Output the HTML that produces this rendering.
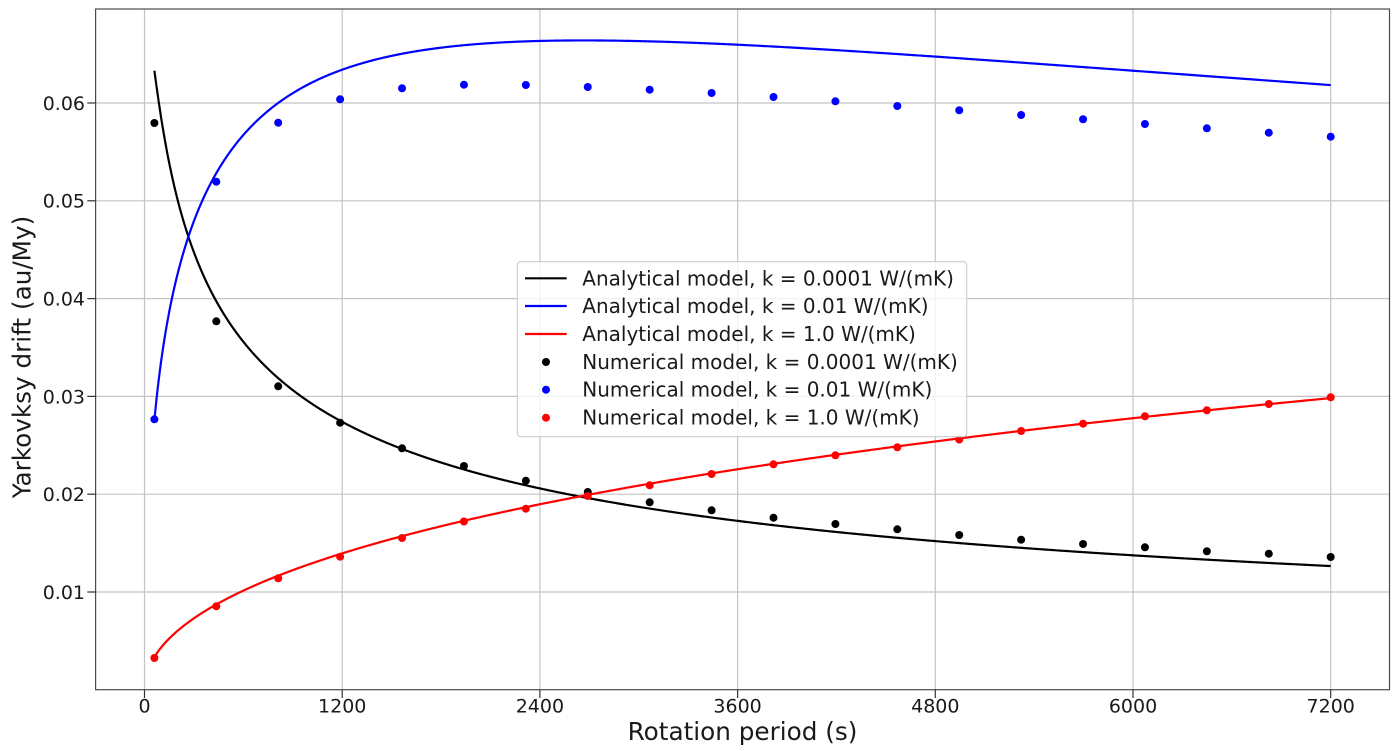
<!DOCTYPE html>
<html><head><meta charset="utf-8"><style>
html,body{margin:0;padding:0;background:#fff;}
svg{display:block;}
text{font-family:"DejaVu Sans","Liberation Sans",sans-serif;fill:#1a1a1a;}
circle{r:4px;}
</style></head><body>
<svg width="1400" height="751" viewBox="0 0 1400 751" xmlns="http://www.w3.org/2000/svg">
<rect x="0" y="0" width="1400" height="751" fill="#fff"/>
<!-- grid -->
<g stroke="#c4c4c4" stroke-width="1.2" fill="none">
<line x1="144.5" y1="9" x2="144.5" y2="689.7"/>
<line x1="342.2" y1="9" x2="342.2" y2="689.7"/>
<line x1="539.9" y1="9" x2="539.9" y2="689.7"/>
<line x1="737.6" y1="9" x2="737.6" y2="689.7"/>
<line x1="935.3" y1="9" x2="935.3" y2="689.7"/>
<line x1="1133" y1="9" x2="1133" y2="689.7"/>
<line x1="1330.7" y1="9" x2="1330.7" y2="689.7"/>
<line x1="95.6" y1="592" x2="1389.5" y2="592"/>
<line x1="95.6" y1="494.2" x2="1389.5" y2="494.2"/>
<line x1="95.6" y1="396.4" x2="1389.5" y2="396.4"/>
<line x1="95.6" y1="298.6" x2="1389.5" y2="298.6"/>
<line x1="95.6" y1="200.8" x2="1389.5" y2="200.8"/>
<line x1="95.6" y1="103" x2="1389.5" y2="103"/>
</g>
<!-- analytic curves -->
<g fill="none" stroke-width="2.2" stroke-linejoin="round" stroke-linecap="butt">
<polyline id="cb" stroke="#000" points="154.39,70.7 157.68,94.5 160.98,116.6 165.92,145.8 170.86,170.9 177.45,199.2 185.69,228.3 193.93,252.3 210.4,290.1 226.88,318.9 243.35,341.8 276.3,376.5 309.25,402.0 342.2,421.8 391.63,444.8 441.05,462.5 506.95,480.8 572.85,495.2 638.75,506.9 737.6,520.9 836.45,532.0 935.3,541.1 1034.15,548.8 1133,555.3 1231.85,561.0 1330.7,566.0"/>
<polyline id="cl" stroke="#0000ff" points="154.39,420.3 157.68,388.5 160.98,362.3 165.92,330.0 170.86,303.6 177.45,274.5 185.69,245.0 193.93,221.0 210.4,183.9 226.88,156.3 243.35,135.0 276.3,104.4 309.25,83.9 342.2,69.7 391.63,55.8 441.05,47.7 506.95,42.2 572.85,40.4 638.75,41.1 737.6,44.7 836.45,50.2 935.3,56.6 1034.15,63.6 1133,70.7 1231.85,77.9 1330.7,85.1"/>
<polyline id="cr" stroke="#ff0000" points="154.39,657.0 157.68,652.0 160.98,647.7 165.92,642.0 170.86,636.9 177.45,630.9 185.69,624.2 193.93,618.3 210.4,607.8 226.88,598.7 243.35,590.6 276.3,576.5 309.25,564.2 342.2,553.4 391.63,539.0 441.05,526.2 506.95,511.2 572.85,497.8 638.75,485.6 737.6,469.3 836.45,454.7 935.3,441.4 1034.15,429.4 1133,418.2 1231.85,407.8 1330.7,398.1"/>
</g>
<!-- numerical dots black -->
<g fill="#000">
<circle cx="154.39" cy="123" r="4"/><circle cx="216.3" cy="321.3" r="4"/><circle cx="278.21" cy="386.3" r="4"/><circle cx="340.12" cy="422.7" r="4"/><circle cx="402.03" cy="448.3" r="4"/><circle cx="463.94" cy="466" r="4"/><circle cx="525.85" cy="480.7" r="4"/><circle cx="587.76" cy="492" r="4"/><circle cx="649.68" cy="502.3" r="4"/><circle cx="711.59" cy="510.3" r="4"/><circle cx="773.5" cy="517.7" r="4"/><circle cx="835.41" cy="524" r="4"/><circle cx="897.32" cy="529.3" r="4"/><circle cx="959.23" cy="535" r="4"/><circle cx="1021.14" cy="539.7" r="4"/><circle cx="1083.05" cy="544" r="4"/><circle cx="1144.96" cy="547.3" r="4"/><circle cx="1206.88" cy="551.3" r="4"/><circle cx="1268.79" cy="553.7" r="4"/><circle cx="1330.7" cy="557" r="4"/>
</g>
<g fill="#0000ff">
<circle cx="154.39" cy="419.3" r="4"/><circle cx="216.3" cy="181.7" r="4"/><circle cx="278.21" cy="122.7" r="4"/><circle cx="340.12" cy="99.3" r="4"/><circle cx="402.03" cy="88.3" r="4"/><circle cx="463.94" cy="84.7" r="4"/><circle cx="525.85" cy="85" r="4"/><circle cx="587.76" cy="87" r="4"/><circle cx="649.68" cy="89.7" r="4"/><circle cx="711.59" cy="93" r="4"/><circle cx="773.5" cy="97" r="4"/><circle cx="835.41" cy="101.3" r="4"/><circle cx="897.32" cy="106" r="4"/><circle cx="959.23" cy="110.3" r="4"/><circle cx="1021.14" cy="115" r="4"/><circle cx="1083.05" cy="119.3" r="4"/><circle cx="1144.96" cy="124" r="4"/><circle cx="1206.88" cy="128.3" r="4"/><circle cx="1268.79" cy="132.7" r="4"/><circle cx="1330.7" cy="136.7" r="4"/>
</g>
<g fill="#ff0000">
<circle cx="154.39" cy="658" r="4"/><circle cx="216.3" cy="606.3" r="4"/><circle cx="278.21" cy="578.3" r="4"/><circle cx="340.12" cy="556.7" r="4"/><circle cx="402.03" cy="538" r="4"/><circle cx="463.94" cy="521.5" r="4"/><circle cx="525.85" cy="508.7" r="4"/><circle cx="587.76" cy="496" r="4"/><circle cx="649.68" cy="485.3" r="4"/><circle cx="711.59" cy="474" r="4"/><circle cx="773.5" cy="464.3" r="4"/><circle cx="835.41" cy="455.3" r="4"/><circle cx="897.32" cy="447.3" r="4"/><circle cx="959.23" cy="439.5" r="4"/><circle cx="1021.14" cy="431" r="4"/><circle cx="1083.05" cy="423.7" r="4"/><circle cx="1144.96" cy="416.3" r="4"/><circle cx="1206.88" cy="410.3" r="4"/><circle cx="1268.79" cy="404" r="4"/><circle cx="1330.7" cy="397.3" r="4"/>
</g>
<!-- spines -->
<rect x="95.6" y="9" width="1293.9" height="680.7" fill="none" stroke="#4a4a4a" stroke-width="1.2"/>
<!-- ticks -->
<g stroke="#333" stroke-width="1.2">
<line x1="144.5" y1="689.7" x2="144.5" y2="698"/>
<line x1="342.2" y1="689.7" x2="342.2" y2="698"/>
<line x1="539.9" y1="689.7" x2="539.9" y2="698"/>
<line x1="737.6" y1="689.7" x2="737.6" y2="698"/>
<line x1="935.3" y1="689.7" x2="935.3" y2="698"/>
<line x1="1133" y1="689.7" x2="1133" y2="698"/>
<line x1="1330.7" y1="689.7" x2="1330.7" y2="698"/>
<line x1="87.3" y1="592" x2="95.6" y2="592"/>
<line x1="87.3" y1="494.2" x2="95.6" y2="494.2"/>
<line x1="87.3" y1="396.4" x2="95.6" y2="396.4"/>
<line x1="87.3" y1="298.6" x2="95.6" y2="298.6"/>
<line x1="87.3" y1="200.8" x2="95.6" y2="200.8"/>
<line x1="87.3" y1="103" x2="95.6" y2="103"/>
</g>
<g font-size="19" text-anchor="middle">
<text x="144.5" y="712.6">0</text>
<text x="342.2" y="712.6">1200</text>
<text x="539.9" y="712.6">2400</text>
<text x="737.6" y="712.6">3600</text>
<text x="935.3" y="712.6">4800</text>
<text x="1133" y="712.6">6000</text>
<text x="1330.7" y="712.6">7200</text>
</g>
<g font-size="19" text-anchor="end">
<text x="85" y="598.9">0.01</text>
<text x="85" y="501.1">0.02</text>
<text x="85" y="403.3">0.03</text>
<text x="85" y="305.5">0.04</text>
<text x="85" y="207.7">0.05</text>
<text x="85" y="109.9">0.06</text>
</g>
<text x="742.5" y="740" font-size="24.7" text-anchor="middle">Rotation period (s)</text>
<text transform="translate(30.7,357) rotate(-90)" x="0" y="0" font-size="24.7" text-anchor="middle">Yarkovksy drift (au/My)</text>
<!-- legend -->
<rect x="517.3" y="261.7" width="449.4" height="175" rx="3.5" ry="3.5" fill="#fff" fill-opacity="0.8" stroke="#cccccc" stroke-width="1.1"/>
<g stroke-width="2.2">
<line x1="525" y1="278.3" x2="566.7" y2="278.3" stroke="#000"/>
<line x1="525" y1="306" x2="566.7" y2="306" stroke="#0000ff"/>
<line x1="525" y1="334" x2="566.7" y2="334" stroke="#ff0000"/>
</g>
<circle cx="546" cy="362" r="3.6" fill="#000"/>
<circle cx="546" cy="389.7" r="3.6" fill="#0000ff"/>
<circle cx="546" cy="417.7" r="3.6" fill="#ff0000"/>
<g font-size="20">
<text x="582.3" y="285.3">Analytical model, k = 0.0001 W/(mK)</text>
<text x="582.3" y="313">Analytical model, k = 0.01 W/(mK)</text>
<text x="582.3" y="341">Analytical model, k = 1.0 W/(mK)</text>
<text x="582.3" y="369">Numerical model, k = 0.0001 W/(mK)</text>
<text x="582.3" y="396.7">Numerical model, k = 0.01 W/(mK)</text>
<text x="582.3" y="424.7">Numerical model, k = 1.0 W/(mK)</text>
</g>
</svg>
<script>
(function(){
  function f(t){return t/(1+t+0.5*t*t);}
  function build(id,c,A){
    var pts=[];var N=1500;
    for(var i=0;i<=N;i++){
      var u=i/N;
      var P=Math.exp(Math.log(60)+(Math.log(7200)-Math.log(60))*u);
      var v=A*f(c/Math.sqrt(P));
      var x=144.5+0.16475*P, y=689.8-9780*v;
      pts.push(x.toFixed(2)+","+y.toFixed(2));
    }
    var el=document.getElementById(id);
    if(el) el.setAttribute("points",pts.join(" "));
  }
  try{
    build("cb",7.3,0.1603);
    build("cl",73,0.1603);
    build("cr",730,0.16158);
  }catch(e){}
})();
</script>
</body></html>
